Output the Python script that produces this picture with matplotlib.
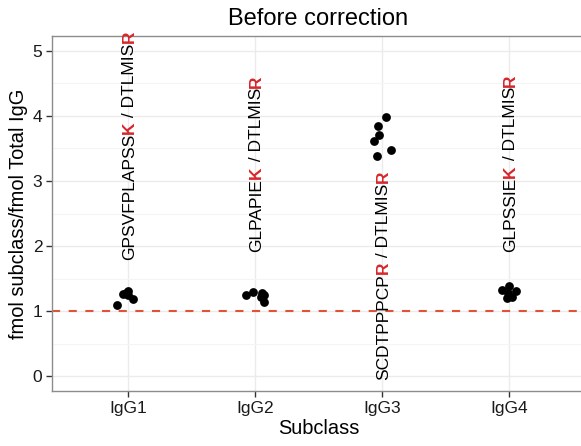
import numpy as np
import matplotlib
matplotlib.use('Agg')
import matplotlib.pyplot as plt
import matplotlib.transforms as mtransforms

plt.rcParams['font.family'] = ['Liberation Sans', 'DejaVu Sans']

# data
subclasses = ['IgG1', 'IgG2', 'IgG3', 'IgG4']
jitter_igg1 = [-0.084, -0.04, -0.02, 0.0, 0.0, 0.04]
ratio_igg1 = [1.09, 1.26, 1.27, 1.31, 1.25, 1.19]
jitter_igg2 = [-0.073, -0.02, 0.053, 0.07, 0.07, 0.045]
ratio_igg2 = [1.25, 1.30, 1.28, 1.25, 1.14, 1.22]
jitter_igg3 = [0.03, -0.03, -0.024, -0.063, -0.037, 0.068]
ratio_igg3 = [3.99, 3.85, 3.71, 3.62, 3.38, 3.47]
jitter_igg4 = [-0.053, 0.005, 0.053, -0.005, -0.013, 0.026]
ratio_igg4 = [1.32, 1.38, 1.31, 1.27, 1.20, 1.22]

# peptide labels: (text, highlighted?)
peptides = [
    [('GPSVFPLAPSS', False), ('K', True), (' / DTLMIS', False), ('R', True)],
    [('GLPAPIE', False), ('K', True), (' / DTLMIS', False), ('R', True)],
    [('SCDTPPPCP', False), ('R', True), (' / DTLMIS', False), ('R', True)],
    [('GLPSSIE', False), ('K', True), (' / DTLMIS', False), ('R', True)],
]
label_y = [1.78, 1.91, -0.06, 1.91]
ref_line = 1.0

jitters = [jitter_igg1, jitter_igg2, jitter_igg3, jitter_igg4]
ratios = [ratio_igg1, ratio_igg2, ratio_igg3, ratio_igg4]

red = '#d7262b'
lab_size = 12.5

fig = plt.figure(figsize=(5.81, 4.46), dpi=100)
ax = fig.add_axes([52/581, 1-391/446, 533/581, 355/446])

ax.set_xlim(0.4, 4.6)
ax.set_ylim(-0.23, 5.23)

ax.set_yticks(range(6))
ax.set_yticks(np.arange(-0.0, 5.5, 0.5), minor=True)
ax.set_xticks(range(1, 5))
ax.set_xticklabels(subclasses)
ax.grid(True, which='major', color='#ebebeb', linewidth=1.0, zorder=0)
ax.grid(True, which='minor', axis='y', color='#f5f5f5', linewidth=0.8, zorder=0)
ax.set_axisbelow(True)
ax.tick_params(which='minor', length=0)
ax.tick_params(which='major', length=4, width=1, color='#333333', labelsize=12.5,
               labelcolor='#1a1a1a', pad=3)
for s in ax.spines.values():
    s.set_color('#8c8c8c')
    s.set_linewidth(1.0)

ax.axhline(ref_line, color='#df5438', linewidth=1.5, dashes=(3.9, 4.1), zorder=2)

for i in range(4):
    xs = np.array(jitters[i]) + (i + 1)
    ax.scatter(xs, ratios[i], s=40, color='black', linewidths=0, zorder=3)

# stacked rotated text pieces, all on one baseline
fig.canvas.draw()
r = fig.canvas.get_renderer()
inv = ax.transData.inverted()
shift = 0.716 * lab_size / 2 / 72.0
trans = ax.transData + mtransforms.ScaledTranslation(shift, 0, fig.dpi_scale_trans)
for i, parts in enumerate(peptides):
    y = label_y[i]
    for txt, hl in parts:
        t = ax.text(i + 1, y, txt, rotation=90, rotation_mode='anchor',
                    ha='left', va='baseline', transform=trans,
                    fontsize=lab_size, color=red if hl else 'black',
                    fontweight='bold' if hl else 'normal', zorder=4)
        bb = t.get_window_extent(renderer=r)
        y0 = ax.transData.transform((0, y))[1]
        y = inv.transform((0, y0 + bb.height))[1]

ax.set_xlabel('Subclass', fontsize=14.4, labelpad=2)
ax.set_ylabel('fmol subclass/fmol Total IgG', fontsize=14.4, labelpad=3)
ax.set_title('Before correction', fontsize=17, pad=8)

fig.savefig('out.png', dpi=100)
